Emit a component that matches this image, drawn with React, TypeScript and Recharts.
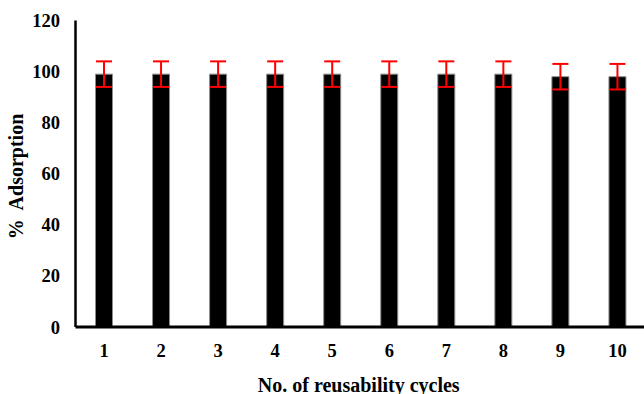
import React from 'react';
import { BarChart, Bar, XAxis, YAxis, ErrorBar } from 'recharts';

const cycles = ['1', '2', '3', '4', '5', '6', '7', '8', '9', '10'];
const adsorption = [99, 99, 99, 99, 99, 99, 99, 99, 98, 98];
const errors = [5, 5, 5, 5, 5, 5, 5, 5, 5, 5];
const yTicks = [0, 20, 40, 60, 80, 100, 120];

const data = cycles.map((c, i) => ({ cycle: c, value: adsorption[i], err: errors[i] }));

const FONT = '"Liberation Serif", "Times New Roman", serif';

export default function App() {
  return (
    <div style={{ position: 'absolute', left: 0, top: 0, width: 644, height: 394, overflow: 'hidden', background: '#fff' }}>
      <BarChart
        width={660}
        height={394}
        data={data}
        margin={{ top: 20.5, right: 14, left: 0, bottom: 0 }}
        barSize={17}
      >
        <XAxis
          dataKey="cycle"
          height={67}
          tickLine={false}
          tickSize={0}
          tickMargin={17}
          axisLine={{ stroke: '#000', strokeWidth: 3 }}
          tick={{ fill: '#000', fontSize: 18.5, fontWeight: 'bold', fontFamily: FONT }}
          label={{
            content: (props: any) => {
              const vb = props.viewBox;
              return (
                <text
                  x={vb.x + vb.width / 2 - 2}
                  y={vb.y + 64.5}
                  textAnchor="middle"
                  fill="#000"
                  fontSize={20}
                  fontWeight="bold"
                  fontFamily={FONT}
                >
                  No. of reusability cycles
                </text>
              );
            },
          }}
        />
        <YAxis
          width={75.5}
          domain={[0, 120]}
          ticks={yTicks}
          interval={0}
          tickLine={false}
          tickSize={0}
          tickMargin={15.5}
          axisLine={{ stroke: '#000', strokeWidth: 2.5 }}
          tick={{ fill: '#000', fontSize: 18.5, fontWeight: 'bold', fontFamily: FONT }}
          label={{
            content: (props: any) => {
              const vb = props.viewBox;
              const x = 22.5;
              const y = 176.5;
              return (
                <text
                  x={x}
                  y={y}
                  transform={`rotate(-90, ${x}, ${y})`}
                  textAnchor="middle"
                  fill="#000"
                  fontSize={20}
                  fontWeight="bold"
                  fontFamily={FONT}
                  style={{ whiteSpace: 'pre' }}
                >
                  {'%  Adsorption'}
                </text>
              );
            },
          }}
        />
        <Bar dataKey="value" fill="#000" stroke="#8c8c8c" strokeWidth={1} isAnimationActive={false}>
          <ErrorBar dataKey="err" width={8} stroke="#ff0000" strokeWidth={2} direction="y" />
        </Bar>
      </BarChart>
    </div>
  );
}
